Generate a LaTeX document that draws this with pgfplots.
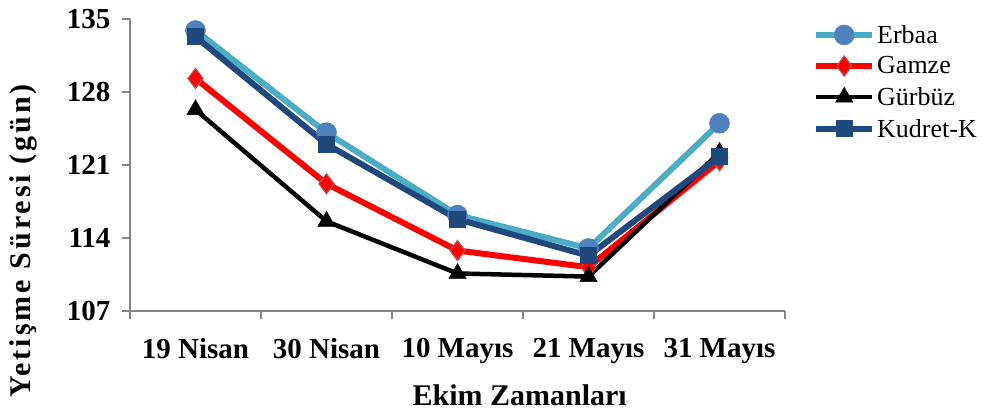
\documentclass[border=0pt]{standalone}
\usepackage{fontspec}
\setmainfont{Liberation Serif}
\usepackage{pgfplots}
\pgfplotsset{compat=1.18}
\definecolor{erbaaL}{HTML}{4BACC6}
\definecolor{erbaaM}{HTML}{4F81BD}
\definecolor{gamzeB}{HTML}{C0504D}
\definecolor{kudret}{HTML}{1F497D}
\definecolor{axgray}{HTML}{868686}
\begin{document}
\begin{tikzpicture}
\begin{axis}[
  scale only axis,
  width=655bp, height=292bp,
  xmin=-0.5, xmax=4.5,
  ymin=107, ymax=135,
  ytick={107,114,121,128,135},
  xtick={0,1,2,3,4},
  xticklabels={19 Nisan,30 Nisan,10 Mayıs,21 Mayıs,31 Mayıs},
  minor xtick={-0.5,0.5,1.5,2.5,3.5,4.5},
  axis x line*=bottom, axis y line*=left,
  axis line style={axgray, line width=1.5bp},
  tick align=outside,
  major tick length=8bp, minor tick length=8bp,
  major x tick style={draw=none},
  minor x tick style={axgray, line width=1.5bp},
  y tick style={axgray, line width=1.5bp},
  /pgf/number format/assume math mode=true,
  tick label style={font=\fontsize{29bp}{32bp}\selectfont\bfseries},
  yticklabel style={xshift=-8bp},
  xticklabel style={yshift=-16bp},
  xlabel={Ekim Zamanları},
  ylabel={\addfontfeature{LetterSpace=10}Yetişme Süresi (gün)},
  label style={font=\fontsize{30bp}{32bp}\selectfont\bfseries},
  xlabel style={at={(axis description cs:0.595,-0.288)}, anchor=center},
  ylabel style={at={(axis description cs:-0.163,0.24)}, anchor=center},
  legend style={draw=none, fill=none, at={(1,1)}, anchor=north west, xshift=28bp, yshift=-4bp,
    font=\fontsize{26bp}{28bp}\selectfont, row sep=8bp, inner sep=0pt,
    nodes={inner sep=2bp}},
  legend cell align=left,
  legend image code/.code={\draw[mark repeat=2,mark phase=2] plot coordinates {(0bp,0bp)(28bp,0bp)(56bp,0bp)};},
  clip=false,
]
\addplot[erbaaL, line width=6bp, mark=*, mark size=10bp, mark options={fill=erbaaM, draw=erbaaM, line width=0.5bp}]
  coordinates {(0,133.9) (1,124.1) (2,116.2) (3,113.0) (4,125.0)};
\addlegendentry{Erbaa}
\addplot[red, line width=6bp, mark=diamond*, mark size=10bp, mark options={fill=red, draw=gamzeB, line width=1.2bp}]
  coordinates {(0,129.3) (1,119.2) (2,112.8) (3,111.2) (4,121.4)};
\addlegendentry{Gamze}
\addplot[black, line width=4.5bp, mark=triangle*, mark size=10bp, mark options={fill=black, line width=0.5bp}]
  coordinates {(0,126.3) (1,115.6) (2,110.6) (3,110.3) (4,122.2)};
\addlegendentry{Gürbüz}
\addplot[kudret, line width=6bp, mark=square*, mark size=8bp, mark options={fill=kudret, line width=0.5bp}]
  coordinates {(0,133.3) (1,123.0) (2,115.8) (3,112.3) (4,121.8)};
\addlegendentry{Kudret-K}
\coordinate (sw) at (rel axis cs:0,0);
\end{axis}
\pgfresetboundingbox
\path ([xshift=-130bp,yshift=-103bp]sw) rectangle ++(985bp,414bp);
\end{tikzpicture}
\end{document}
